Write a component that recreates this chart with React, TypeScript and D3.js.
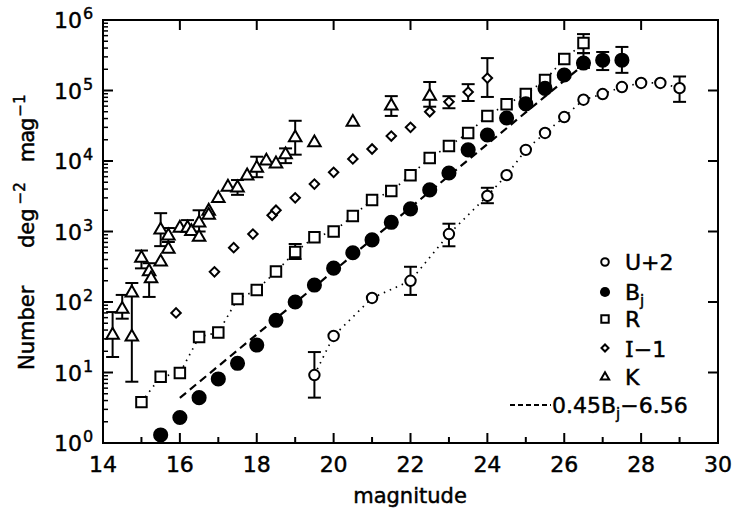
import React from "react";
import * as d3 from "d3";

// U+2 counts
const uMag = [19.5, 20, 21, 22, 23, 24, 24.5, 25, 25.5, 26, 26.5, 27, 27.5, 28, 28.5, 29];
const uN = [9.2, 33, 114, 200, 920, 3200, 6300, 14400, 25000, 42000, 74000, 89000, 112000, 128000, 128000, 108000];
const uLo = [4.4, null, null, 126, 617, 2520, null, null, null, null, null, null, null, null, null, 69000];
const uHi = [19.5, null, null, 316, 1290, 4170, null, null, null, null, null, null, null, null, null, 158000];

// Bj counts
const bjMag = [15.5, 16, 16.5, 17, 17.5, 18, 18.5, 19, 19.5, 20, 20.5, 21, 21.5, 22, 22.5, 23, 23.5, 24, 24.5, 25, 25.5, 26, 26.5, 27, 27.5];
const bjN = [1.3, 2.3, 4.4, 8.1, 13.5, 24.5, 55, 100, 174, 302, 500, 760, 1350, 2090, 3890, 6760, 14400, 23400, 40700, 64600, 107000, 166000, 245000, 269000, 269000];
const bjLo = [null, null, null, null, null, null, null, null, null, null, null, null, null, null, null, null, null, null, null, null, null, null, 209000, 195000, 178000];
const bjHi = [null, null, null, null, null, null, null, null, null, null, null, null, null, null, null, null, null, null, null, null, null, null, 339000, 352000, 415000];

// R counts
const rMag = [15, 15.5, 16, 16.5, 17, 17.5, 18, 18.5, 19, 19.5, 20, 20.5, 21, 21.5, 22, 22.5, 23, 23.5, 24, 24.5, 25, 25.5, 26, 26.5];
const rN = [3.8, 8.7, 9.8, 32, 37, 110, 148, 270, 510, 830, 1000, 1660, 2800, 3750, 6300, 11000, 16300, 25000, 43600, 64000, 89000, 141000, 280000, 470000];
const rLo = [null, null, null, null, null, null, null, null, 407, null, null, null, null, null, null, null, null, null, null, null, null, null, null, 339000];
const rHi = [null, null, null, null, null, null, null, null, 665, null, null, null, null, null, null, null, null, null, null, null, null, null, null, 631000];

// I-1 counts
const iMag = [15.9, 16.9, 17.4, 17.9, 18.4, 18.5, 19, 19.5, 20, 20.5, 21, 21.5, 22, 22.5, 23, 23.5, 24];
const iN = [70, 268, 590, 920, 1700, 2000, 3000, 4700, 6900, 10700, 14800, 22600, 30000, 50000, 69000, 95000, 150000];
const iLo = [null, null, null, null, null, null, null, null, null, null, null, null, null, null, 56000, 71000, 81000];
const iHi = [null, null, null, null, null, null, null, null, null, null, null, null, null, null, 83000, 123000, 288000];

// K counts
const kMag = [14.25, 14.5, 14.75, 14.75, 15, 15.2, 15.25, 15.5, 15.5, 15.7, 15.7, 16, 16.2, 16.3, 16.5, 16.5, 16.75, 16.75, 17, 17.25, 17.5, 17.75, 18, 18.25, 18.5, 18.75, 19, 19.5, 20.5, 21.5, 22.5];
const kN = [34, 79, 32, 135, 420, 270, 214, 370, 1050, 870, 560, 1120, 1120, 1000, 1320, 830, 1950, 1700, 2950, 4270, 4170, 6170, 7940, 10000, 9120, 12300, 21400, 18200, 35500, 60300, 83200];
const kLo = [16.6, 58, 7.4, null, 300, 118, null, null, 620, 710, null, null, 1050, null, 1000, null, null, null, null, null, 3310, null, 5890, null, null, 9330, 12300, null, null, 43600, 58900];
const kHi = [72, 126, 186, null, 537, 355, null, null, 1820, 1120, null, null, 1450, null, 2000, null, null, null, null, null, 5370, null, 11500, null, null, 15100, 37200, null, null, 83200, 132000];

const xTicks = [14, 16, 18, 20, 22, 24, 26, 28, 30];
const yDecades = [0, 1, 2, 3, 4, 5, 6];
const fitRange = [16, 26.5];

const font = "DejaVu Sans";

const x = d3.scaleLinear().domain([14, 30]).range([103, 718]);
const y = d3.scaleLog().domain([1, 1e6]).range([443, 20]);

const sym = (type: any, size: number) => d3.symbol().type(type).size(size)() as string;

function ErrBars({ mag, lo, hi }: { mag: number[]; lo: (number | null)[]; hi: (number | null)[] }) {
  return (
    <g stroke="#000" strokeWidth={2}>
      {mag.map((m, i) =>
        lo[i] != null && hi[i] != null ? (
          <g key={i}>
            <line x1={x(m)} x2={x(m)} y1={y(lo[i] as number)} y2={y(hi[i] as number)} />
            <line x1={x(m) - 6.5} x2={x(m) + 6.5} y1={y(lo[i] as number)} y2={y(lo[i] as number)} />
            <line x1={x(m) - 6.5} x2={x(m) + 6.5} y1={y(hi[i] as number)} y2={y(hi[i] as number)} />
          </g>
        ) : null
      )}
    </g>
  );
}

function Marks({ mag, n, d, fill, rot = 0 }: { mag: number[]; n: number[]; d: string; fill: string; rot?: number }) {
  return (
    <g>
      {mag.map((m, i) => (
        <path key={i} d={d} transform={`translate(${x(m)},${y(n[i])}) rotate(${rot})`} fill={fill} stroke="#000" strokeWidth={2} />
      ))}
    </g>
  );
}

export default function App() {
  const line = d3.line<[number, number]>().x((p) => x(p[0])).y((p) => y(p[1]));
  const uPts = uMag.map((m, i) => [m, uN[i]] as [number, number]);
  const rPts = rMag.map((m, i) => [m, rN[i]] as [number, number]);
  const fitPts = fitRange.map((m) => [m, Math.pow(10, 0.45 * m - 6.56)] as [number, number]);

  const circleOpen = sym(d3.symbolCircle, 85);
  const circleFilled = sym(d3.symbolCircle, 135);
  const square = sym(d3.symbolSquare, 110);
  const diamond = sym(d3.symbolSquare, 45);
  const tri = sym(d3.symbolTriangle, 68);

  const minor: number[] = [];
  for (let dec = 0; dec < 6; dec++) for (let k = 2; k <= 9; k++) minor.push(k * Math.pow(10, dec));

  const legendX = 605;
  const legendTx = 625;
  const txt = { stroke: "#000", strokeWidth: 0.45 };

  return (
    <svg width={734} height={512} style={{ position: "absolute", left: 0, top: 0, background: "#fff" }} fontFamily={font}>
      {/* frame */}
      <rect x={103} y={20} width={615} height={423} fill="none" stroke="#000" strokeWidth={2} />
      <g stroke="#000" strokeWidth={2}>
        {xTicks.map((t) => (
          <g key={t}>
            <line x1={x(t)} x2={x(t)} y1={443} y2={433} />
            <line x1={x(t)} x2={x(t)} y1={20} y2={30} />
          </g>
        ))}
        {d3.range(15, 30, 2).map((t) => (
          <line key={t} x1={x(t)} x2={x(t)} y1={443} y2={437} />
        ))}
        {yDecades.map((d) => (
          <g key={d}>
            <line x1={103} x2={113} y1={y(Math.pow(10, d))} y2={y(Math.pow(10, d))} />
            <line x1={718} x2={708} y1={y(Math.pow(10, d))} y2={y(Math.pow(10, d))} />
          </g>
        ))}
      </g>
      <g stroke="#000" strokeWidth={1.5}>
        {minor.map((v, i) => (
          <line key={i} x1={103} x2={108} y1={y(v)} y2={y(v)} />
        ))}
      </g>
      {/* tick labels */}
      <g fontSize={22} fill="#000" {...txt}>
        {xTicks.map((t) => (
          <text key={t} x={x(t)} y={472} textAnchor="middle">
            {t}
          </text>
        ))}
        {yDecades.map((d) => (
          <g key={d}>
            <text x={82} y={y(Math.pow(10, d)) + 8} textAnchor="end">
              10
            </text>
            <text x={83} y={y(Math.pow(10, d)) - 1} fontSize={16}>
              {d}
            </text>
          </g>
        ))}
      </g>
      <text x={410} y={503} textAnchor="middle" fontSize={21} {...txt}>
        magnitude
      </text>
      <text transform="translate(34,370) rotate(-90)" fontSize={21} {...txt}>
        <tspan>Number</tspan>
        <tspan dx={38}>deg</tspan>
        <tspan dx={4} dy={-9} fontSize={15}>−2</tspan>
        <tspan dx={20} dy={9} letterSpacing={-1}>mag</tspan>
        <tspan dx={2} dy={-9} fontSize={15}>−1</tspan>
      </text>

      {/* lines */}
      <path d={line(uPts) as string} fill="none" stroke="#000" strokeWidth={1.7} strokeDasharray="1.5 5" />
      <path d={line(rPts) as string} fill="none" stroke="#000" strokeWidth={1.7} strokeDasharray="1.5 5" />
      <path d={line(fitPts) as string} fill="none" stroke="#000" strokeWidth={2.2} strokeDasharray="8 5" />

      {/* error bars */}
      <ErrBars mag={uMag} lo={uLo} hi={uHi} />
      <ErrBars mag={bjMag} lo={bjLo} hi={bjHi} />
      <ErrBars mag={rMag} lo={rLo} hi={rHi} />
      <ErrBars mag={iMag} lo={iLo} hi={iHi} />
      <ErrBars mag={kMag} lo={kLo} hi={kHi} />

      {/* markers */}
      <Marks mag={kMag} n={kN} d={tri} fill="#fff" />
      <Marks mag={iMag} n={iN} d={diamond} fill="#fff" rot={45} />
      <Marks mag={rMag} n={rN} d={square} fill="#fff" />
      <Marks mag={bjMag} n={bjN} d={circleFilled} fill="#000" />
      <Marks mag={uMag} n={uN} d={circleOpen} fill="#fff" />

      {/* legend */}
      <g fontSize={22} fill="#000">
        <path d={sym(d3.symbolCircle, 45)} transform={`translate(${legendX},262)`} fill="#fff" stroke="#000" strokeWidth={2} />
        <text x={legendTx} y={270} {...txt}>U+2</text>
        <path d={sym(d3.symbolCircle, 80)} transform={`translate(${legendX},292)`} fill="#000" />
        <text x={legendTx} y={300} {...txt}>
          B<tspan dy={6} fontSize={15}>j</tspan>
        </text>
        <path d={sym(d3.symbolSquare, 55)} transform={`translate(${legendX},319)`} fill="#fff" stroke="#000" strokeWidth={2} />
        <text x={legendTx} y={327} {...txt}>R</text>
        <path d={sym(d3.symbolSquare, 25)} transform={`translate(${legendX},348) rotate(45)`} fill="#fff" stroke="#000" strokeWidth={2} />
        <text x={legendTx} y={357} {...txt}>
          <tspan fontFamily="DejaVu Serif">I</tspan>−1
        </text>
        <path d={sym(d3.symbolTriangle, 30)} transform={`translate(${legendX},377)`} fill="#fff" stroke="#000" strokeWidth={2} />
        <text x={legendTx} y={385} {...txt}>K</text>
        <line x1={510} x2={551} y1={405} y2={405} stroke="#000" strokeWidth={2} strokeDasharray="5 3" />
        <text x={552} y={413} {...txt}>
          0.45B<tspan dy={6} fontSize={15}>j</tspan>
          <tspan dy={-6}>−6.56</tspan>
        </text>
      </g>
    </svg>
  );
}
